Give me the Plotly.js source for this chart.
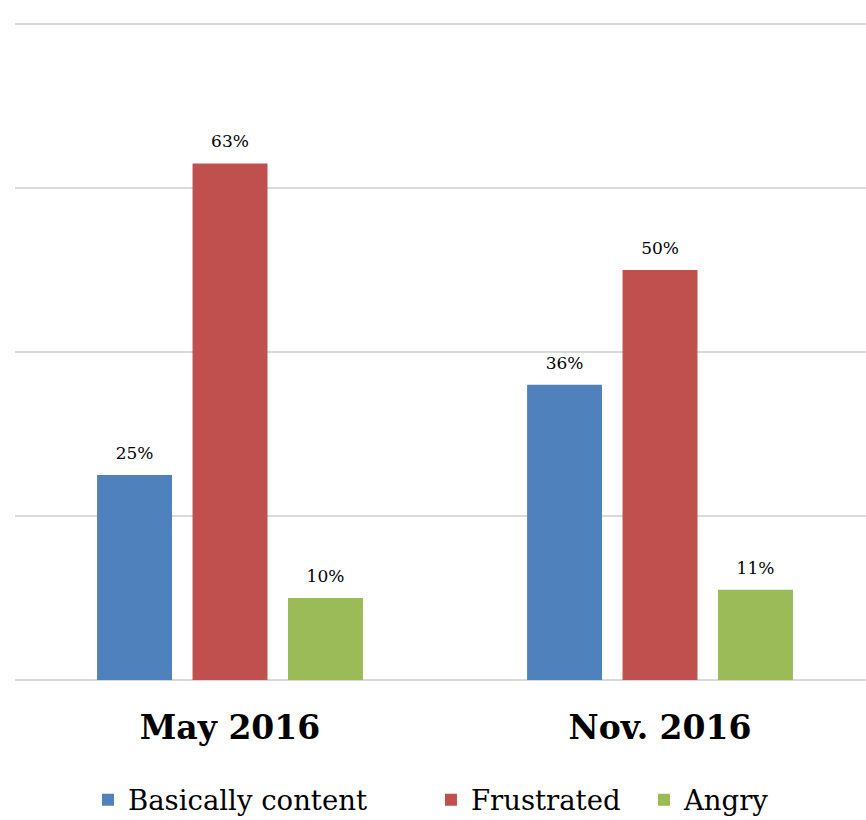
<!DOCTYPE html>
<html>
<head>
<meta charset="utf-8">
<script src="https://cdn.plot.ly/plotly-3.0.1.min.js"></script>
<style>html,body{margin:0;padding:0;background:#fff;}#chart{width:866px;height:820px;}</style>
</head>
<body>
<div id="chart"></div>
<script>
const categories = ["May 2016", "Nov. 2016"];
const seriesNames = ["Basically content", "Frustrated", "Angry"];
const basicallyContent = [25, 36];
const frustrated = [63, 50];
const angry = [10, 11];
const colors = ["#4f81bd", "#c0504d", "#9bbb59"];
const yTicks = [0, 20, 40, 60, 80];

const serif = "DejaVu Serif, Liberation Serif, serif";
const values = [basicallyContent, frustrated, angry];
const legendIds = ["legend", "legend2", "legend3"];
const legendX = [0.0858, 0.4888, 0.7391];

const spacer = "<span style='font-size:56px'> </span>";
const traces = values.map((vals, i) => ({
  type: "bar",
  name: seriesNames[i],
  legend: legendIds[i],
  x: categories,
  y: vals,
  marker: {color: colors[i], line: {width: 0}},
  text: vals.map(v => v + "%"),
  texttemplate: spacer + "%{text}" + spacer,
  textposition: "outside",
  constraintext: "none",
  textfont: {family: serif, size: 17, color: "#000"},
  cliponaxis: false,
  hoverinfo: "skip"
}));

const legendBase = {
  orientation: "h",
  xanchor: "left",
  yref: "container",
  y: 0.0545, yanchor: "top",
  font: {family: serif, size: 27.5, color: "#000"},
  bgcolor: "rgba(0,0,0,0)",
  itemclick: false
};

const layout = {
  width: 866,
  height: 820,
  margin: {l: 15, r: 0, t: 23, b: 140, autoexpand: false},
  paper_bgcolor: "#fff",
  plot_bgcolor: "#fff",
  barmode: "group",
  bargap: 0.334,
  bargroupgap: 0.215,
  showlegend: true,
  legend: Object.assign({}, legendBase, {x: legendX[0]}),
  legend2: Object.assign({}, legendBase, {x: legendX[1]}),
  legend3: Object.assign({}, legendBase, {x: legendX[2]}),
  xaxis: {
    range: [-0.5, 1.479],
    showgrid: false,
    zeroline: false,
    showline: false,
    ticks: "",
    tickfont: {family: serif, size: 33, color: "#000", weight: 700},
    ticklabelstandoff: 25
  },
  yaxis: {
    range: [0, 80.125],
    tickvals: yTicks,
    showticklabels: false,
    showgrid: true,
    gridcolor: "#d9d9d9",
    gridwidth: 2,
    zeroline: true,
    zerolinecolor: "#d9d9d9",
    zerolinewidth: 2,
    fixedrange: true
  }
};

Plotly.newPlot("chart", traces, layout, {displayModeBar: false, staticPlot: true});
</script>
</body>
</html>
